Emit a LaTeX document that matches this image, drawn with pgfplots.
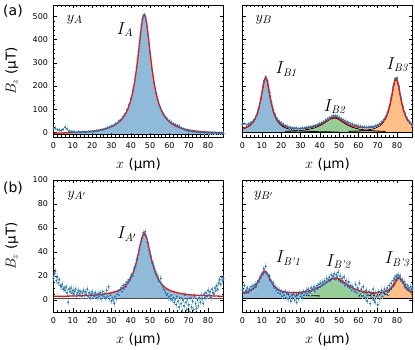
\documentclass[border=0pt]{standalone}
\usepackage[no-math]{fontspec}
\setmainfont{DejaVu Sans}
\usepackage{pgfplots}
\pgfplotsset{compat=1.18}
\definecolor{C0}{HTML}{1F77B4}
\definecolor{C1}{HTML}{FF7F0E}
\definecolor{C2}{HTML}{2CA02C}
\definecolor{fitred}{HTML}{F01010}
\tikzset{
  lab/.style={font=\fontsize{15}{15}\selectfont},
  ilab/.style={font=\fontsize{16}{16}\selectfont},
}
\pgfplotsset{
  panel/.style={
    scale only axis, width=170pt, height=132pt,
    xmin=0, xmax=88, xtick={0,10,...,80}, minor x tick num=4,
    tick align=inside,
    major tick length=3.5pt, minor tick length=1.8pt,
    every tick/.style={black, line width=0.5pt},
    axis line style={black, line width=0.9pt},
    tick label style={font=\fontsize{8}{9}\selectfont},
    xticklabel style={yshift=-2pt},
    yticklabel style={xshift=-2pt},
    label style={font=\fontsize{13.5}{15}\selectfont},
    xlabel={$x$ (µm)},
    xlabel style={at={(axis description cs:0.5,-0.21)}, anchor=center},
    ylabel style={at={(axis description cs:-0.245,0.5)}, anchor=center},
    /pgf/number format/assume math mode=true,
  },
  toprow/.style={ymin=-20, ymax=550, ytick={0,100,...,500}, minor y tick num=4},
  botrow/.style={ymin=-10, ymax=100, ytick={0,20,...,100}, minor y tick num=3},
  pts/.style={only marks, mark=*, mark size=0.8pt, mark options={draw=C0, fill=C0},
    error bars/y dir=both, error bars/x dir=both, error bars/x fixed=0.4,
    error bars/error mark=none, error bars/error bar style={C0!40, line width=0.6pt}},
  fitline/.style={fitred, line width=1.3pt},
  compline/.style={black, line width=0.8pt},
}
\begin{document}
\begin{tikzpicture}
\path[use as bounding box] (0,0) rectangle (415pt,350pt);
\node[font=\fontsize{14}{14}\selectfont] at (13pt,339pt) {(a)};
\node[font=\fontsize{14}{14}\selectfont] at (13pt,162pt) {(b)};

% ---------------- (a) left : y_A
\begin{axis}[panel, toprow, at={(53.5pt,213pt)}, anchor=south west, ylabel={$B_z$ (µT)}]
\addplot[draw=none, fill=C0, fill opacity=0.5] coordinates {
(0,-8)(0,-3.5)(3,-2.87)(7,-1.81)(11,-0.37)(13,0.53)(15,1.6)(17,2.9)(19,4.5)(21,6.4)(23,8.8)(25,11.9)(27,15.9)(29,21.2)(30,24.5)(31,28.4)(32,33)(33,38.6)(34,45.2)(35,53.4)(36,63.4)(37,76)(38,92)(39,112.2)(40,138.7)(41,173.1)(42,218.2)(43,275.7)(44,345.6)(44.5,383.5)(45,421.2)(45.5,456.2)(46,484.5)(46.5,503.4)(47,510)(47.5,503.4)(48,484.5)(48.5,456.2)(49,421.2)(49.5,383.5)(50,345.6)(51,275.7)(52,218.2)(53,173.1)(54,138.7)(55,112.2)(56,92)(57,76)(58,63.4)(59,53.4)(60,45.2)(61,38.6)(62,33)(63,28.4)(64,24.5)(65,21.2)(67,15.9)(69,11.9)(71,8.8)(73,6.4)(75,4.5)(77,2.9)(79,1.6)(81,0.53)(84,-0.78)(88,-2.1)(88,-8)};
\addplot[compline] coordinates {(0,-8)(88,-8)};
\addplot[pts, error bars/y fixed=8] coordinates {
(0,14)(1,18)(2,12)(3,10)(4,8)(5,13)(6,22)(7,15)(8,6)(9,3)(10,2)(11,1)(12,0)(13,3)(14,-1)(15,2)(16,1)(17,0)(18,3)(19,2)(20,4)(21,3)(22,6)(23,5)(24,8)(25,10)(26,12)(27,14)(28,20)(29,22)(30,27)(31,30)(32,36)(33,40)(34,50)(35,56)(36,68)(37,80)(38,98)(39,118)(40,145)(41,178)(42,222)(43,280)(44,350)(44.5,385)(45,425)(45.5,460)(46,488)(46.5,502)(47,508)(47.5,500)(48,480)(48.5,452)(49,418)(49.5,380)(50,342)(51,270)(52,214)(53,170)(54,137)(55,112)(56,93)(57,78)(58,66)(59,57)(60,50)(61,44)(62,38)(63,34)(64,30)(65,27)(66,20)(67,14)(68,10)(69,8)(70,5)(71,4)(72,3)(73,2)(74,0)(75,1)(76,-1)(77,0)(78,-2)(79,-1)(80,-3)(81,-2)(82,-4)(83,-2)(84,-3)(85,-5)(86,-3)(87,-4)(88,-4)};
\addplot[fitline] coordinates {
(0,-3.5)(3,-2.87)(7,-1.81)(11,-0.37)(13,0.53)(15,1.6)(17,2.9)(19,4.5)(21,6.4)(23,8.8)(25,11.9)(27,15.9)(29,21.2)(30,24.5)(31,28.4)(32,33)(33,38.6)(34,45.2)(35,53.4)(36,63.4)(37,76)(38,92)(39,112.2)(40,138.7)(41,173.1)(42,218.2)(43,275.7)(44,345.6)(44.5,383.5)(45,421.2)(45.5,456.2)(46,484.5)(46.5,503.4)(47,510)(47.5,503.4)(48,484.5)(48.5,456.2)(49,421.2)(49.5,383.5)(50,345.6)(51,275.7)(52,218.2)(53,173.1)(54,138.7)(55,112.2)(56,92)(57,76)(58,63.4)(59,53.4)(60,45.2)(61,38.6)(62,33)(63,28.4)(64,24.5)(65,21.2)(67,15.9)(69,11.9)(71,8.8)(73,6.4)(75,4.5)(77,2.9)(79,1.6)(81,0.53)(84,-0.78)(88,-2.1)};
\node[lab] at (axis cs:11,487) {$y_A$};
\node[ilab] at (axis cs:37,444) {$I_A$};
\end{axis}

% ---------------- (a) right : y_B
\begin{axis}[panel, toprow, at={(242.5pt,213pt)}, anchor=south west, yticklabels={}]
\addplot[draw=none, fill=C0, fill opacity=0.5] coordinates {
(0,0)(0,14.7)(1,17.3)(2,20.6)(3,24.9)(4,30.7)(5,38.5)(6,49.5)(7,65.3)(8,88.2)(9,121.3)(9.5,142.4)(10,166)(10.5,190.4)(11,212.9)(11.5,229)(12,235)(12.5,229)(13,212.9)(13.5,190.4)(14,166)(14.5,142.4)(15,121.3)(16,88.2)(17,65.3)(18,49.5)(19,38.5)(20,30.7)(21,24.9)(22,20.6)(23,17.3)(24,14.7)(25,12.6)(26,11)(27,9.6)(28,8.5)(30,6.8)(32,5.5)(35,4.2)(36,3.9)(36,0)};
\addplot[draw=none, fill=C2, fill opacity=0.5] coordinates {
(22,0)(22,4.3)(24,5.0)(26,5.9)(28,7.1)(30,8.6)(32,10.5)(34,13.1)(36,16.8)(38,21.8)(40,28.9)(42,38.3)(44,49.6)(45,55)(46,59.3)(47.5,62)(49,59.3)(50,55)(51,49.6)(53,38.3)(55,28.9)(57,21.8)(59,16.8)(61,13.1)(63,10.5)(65,8.6)(67,7.1)(70,5.5)(72,4.7)(74,4.0)(74,0)};
\addplot[draw=none, fill=C1, fill opacity=0.5] coordinates {
(60,0)(60,6.0)(63,8.3)(65,10.7)(66,12.2)(67,14.1)(68,16.5)(69,19.5)(70,23.4)(71,28.5)(72,35.4)(73,44.8)(74,58.2)(75,77.2)(76,104.7)(77,142.9)(78,188.5)(78.5,209.5)(79,224.5)(79.5,230)(80,224.5)(80.5,209.5)(81,188.5)(82,142.9)(83,104.7)(84,77.2)(85,58.2)(86,44.8)(87,35.4)(88,28.5)(88,0)};
\addplot[compline] coordinates {(0,0)(88,0)};
\addplot[compline] coordinates {
(0,14.7)(1,17.3)(2,20.6)(3,24.9)(4,30.7)(5,38.5)(6,49.5)(7,65.3)(8,88.2)(9,121.3)(9.5,142.4)(10,166)(10.5,190.4)(11,212.9)(11.5,229)(12,235)(12.5,229)(13,212.9)(13.5,190.4)(14,166)(14.5,142.4)(15,121.3)(16,88.2)(17,65.3)(18,49.5)(19,38.5)(20,30.7)(21,24.9)(22,20.6)(23,17.3)(24,14.7)(25,12.6)(26,11)(27,9.6)(28,8.5)(30,6.8)(32,5.5)(35,4.2)(40,2.8)(45,2.1)(50,1.6)};
\addplot[compline] coordinates {
(22,4.3)(24,5.0)(26,5.9)(28,7.1)(30,8.6)(32,10.5)(34,13.1)(36,16.8)(38,21.8)(40,28.9)(42,38.3)(44,49.6)(45,55)(46,59.3)(47.5,62)(49,59.3)(50,55)(51,49.6)(53,38.3)(55,28.9)(57,21.8)(59,16.8)(61,13.1)(63,10.5)(65,8.6)(67,7.1)(70,5.5)(72,4.7)(74,4.0)};
\addplot[compline] coordinates {
(55,3.9)(60,6.0)(63,8.3)(65,10.7)(66,12.2)(67,14.1)(68,16.5)(69,19.5)(70,23.4)(71,28.5)(72,35.4)(73,44.8)(74,58.2)(75,77.2)(76,104.7)(77,142.9)(78,188.5)(78.5,209.5)(79,224.5)(79.5,230)(80,224.5)(80.5,209.5)(81,188.5)(82,142.9)(83,104.7)(84,77.2)(85,58.2)(86,44.8)(87,35.4)(88,28.5)};
\addplot[pts, error bars/y fixed=8] coordinates {
(0,35)(1,38)(2,33)(3,35)(4,40)(5,45)(6,55)(7,70)(8,95)(9,125)(10,170)(11,220)(12,240)(13,222)(14,172)(15,130)(16,98)(17,75)(18,58)(19,48)(20,42)(21,36)(22,30)(23,26)(24,22)(25,20)(26,18)(27,19)(28,18)(29,15)(30,17)(31,19)(32,18)(33,21)(34,22)(35,24)(36,25)(37,28)(38,30)(39,34)(40,38)(41,42)(42,47)(43,53)(44,58)(45,63)(46,68)(47,72)(48,72)(49,70)(50,65)(51,60)(52,55)(53,50)(54,45)(55,42)(56,38)(57,35)(58,32)(59,30)(60,28)(61,26)(62,24)(63,23)(64,22)(65,22)(66,23)(67,24)(68,25)(69,28)(70,32)(71,36)(72,44)(73,53)(74,66)(75,85)(76,112)(77,150)(78,196)(79,232)(80,234)(81,198)(82,150)(83,112)(84,84)(85,64)(86,50)(87,40)(88,33)};
\addplot[fitline] coordinates {
(0,16.4)(1,19)(2,22.4)(3,27)(4,32.7)(5,40.5)(6,51.6)(7,67.5)(8,90.5)(9,123.7)(9.5,144.9)(10,168.5)(10.5,192.9)(11,215.5)(11.5,231.6)(12,237.7)(12.5,231.8)(13,215.8)(13.5,193.3)(14,169)(14.5,145.5)(15,124.5)(16,91.6)(17,68.9)(18,53.3)(19,42.5)(20,35.2)(22,25.6)(24,20.5)(26,17.7)(28,16.5)(30,16.3)(32,17)(34,18.8)(36,21.9)(38,26.5)(40,33.2)(42,42.5)(44,53.7)(46,63.3)(47.5,66.1)(49,63.5)(51,54)(53,43)(55,34.1)(57,27.5)(59,23.4)(61,20.8)(63,19.7)(65,20.1)(66,20.8)(67,22)(68,23.7)(69,26.1)(70,29.6)(71,34.2)(72,40.7)(73,49.7)(74,62.8)(75,81.6)(76,108.9)(77,146.8)(78,192.2)(78.5,213.1)(79,228)(79.5,233.4)(80,227.7)(80.5,212.7)(81,191.6)(82,145.9)(83,107.6)(84,79.9)(85,60.8)(86,47.3)(87,37.8)(88,30.7)};
\node[lab] at (axis cs:11,487) {$y_B$};
\node[ilab] at (axis cs:23,272) {$I_{\mathit{B1}}$};
\node[ilab] at (axis cs:48,112) {$I_{\mathit{B2}}$};
\node[ilab] at (axis cs:80.5,293) {$I_{\mathit{B3}}$};
\end{axis}

% ---------------- (b) left : y_A'
\begin{axis}[panel, botrow, at={(53.5pt,38pt)}, anchor=south west, ylabel={$B_z$ (µT)}]
\addplot[draw=none, fill=C0, fill opacity=0.5] coordinates {
(20,1.5)(20,3.9)(25,4.6)(30,6.0)(33,7.5)(35,9.0)(37,11.4)(39,15.2)(40,18.0)(41,21.6)(42,26.2)(43,32.1)(44,39.2)(45,46.8)(45.5,50.2)(46,53.0)(46.5,54.9)(47,55.5)(47.5,54.9)(48,53.0)(48.5,50.2)(49,46.8)(50,39.2)(51,32.1)(52,26.2)(53,21.6)(54,18.0)(55,15.2)(57,11.4)(59,9.0)(61,7.5)(64,6.0)(69,4.6)(74,3.9)(74,1.5)};
\addplot[black!70, line width=0.9pt] coordinates {(0,1.5)(88,1.5)};
\addplot[pts, error bars/y fixed=2.5] coordinates {
(0,18)(0.5,22)(1,24)(1.5,16)(2,19)(2.5,14)(3,17)(3.5,12)(4,11)(4.5,13)(5,9)(5.5,10)(6,8)(6.5,11)(7,6)(7.5,-2)(8,9)(8.5,7)(9,10)(9.5,6)(10,8)(10.5,5)(11,7)(11.5,9)(12,4)(12.5,6)(13,8)(13.5,5)(14,7)(14.5,3)(15,6)(15.5,8)(16,4)(16.5,7)(17,5)(17.5,9)(18,3)(18.5,6)(19,2)(19.5,5)(20,7)(20.5,4)(21,3)(21.5,6)(22,4)(22.5,2)(23,5)(23.5,3)(24,6)(24.5,1)(25,4)(25.5,7)(26,3)(26.5,5)(27,2)(27.5,8)(28,3)(28.5,11)(29,1)(29.5,4)(30,-1)(30.5,2)(31,0)(31.5,-3)(32,3)(32.5,1)(33,5)(33.5,7)(34,4)(34.5,8)(35,10)(35.5,7)(36,12)(36.5,9)(37,13)(37.5,11)(38,15)(38.5,14)(39,17)(39.5,16)(40,19)(40.5,21)(41,20)(41.5,25)(42,27)(42.5,28)(43,33)(43.5,34)(44,38)(44.5,42)(45,46)(45.5,49)(46,52)(46.5,56)(47,54)(47.5,57)(48,52)(48.5,48)(49,45)(49.5,41)(50,38)(50.5,35)(51,31)(51.5,30)(52,27)(52.5,24)(53,22)(53.5,20)(54,19)(54.5,16)(55,15)(55.5,18)(56,13)(56.5,11)(57,9)(57.5,8)(58,6)(58.5,4)(59,5)(59.5,2)(60,3)(60.5,1)(61,4)(61.5,0)(62,2)(62.5,-2)(63,1)(63.5,-4)(64,3)(64.5,-1)(65,-6)(65.5,2)(66,-3)(66.5,-9)(67,0)(67.5,-5)(68,4)(68.5,-2)(69,-8)(69.5,1)(70,-4)(70.5,-10)(71,2)(71.5,-6)(72,-1)(72.5,-8)(73,3)(73.5,-3)(74,-7)(74.5,0)(75,-5)(75.5,2)(76,-2)(76.5,4)(77,1)(77.5,-3)(78,5)(78.5,2)(79,6)(79.5,3)(80,8)(80.5,4)(81,7)(81.5,2)(82,9)(82.5,6)(83,5)(83.5,10)(84,8)(84.5,12)(85,9)(85.5,14)(86,17)(86.5,13)(87,19)(87.5,16)(88,18)};
\addplot[fitline] coordinates {
(0,3.0)(10,3.3)(20,3.9)(25,4.6)(30,6.0)(33,7.5)(35,9.0)(37,11.4)(39,15.2)(40,18.0)(41,21.6)(42,26.2)(43,32.1)(44,39.2)(45,46.8)(45.5,50.2)(46,53.0)(46.5,54.9)(47,55.5)(47.5,54.9)(48,53.0)(48.5,50.2)(49,46.8)(50,39.2)(51,32.1)(52,26.2)(53,21.6)(54,18.0)(55,15.2)(57,11.4)(59,9.0)(61,7.5)(64,6.0)(69,4.6)(74,3.9)(84,3.3)(88,3.1)};
\node[lab] at (axis cs:12,87) {$y_{A'}$};
\node[ilab] at (axis cs:38,55) {$I_{A'}$};
\end{axis}

% ---------------- (b) right : y_B'
\begin{axis}[panel, botrow, at={(242.5pt,38pt)}, anchor=south west, yticklabels={}]
\addplot[draw=none, fill=C0, fill opacity=0.5] coordinates {
(0,1)(0,5.0)(2,5.8)(4,7.2)(6,9.6)(7,11.5)(8,14.1)(9,17.3)(10,20.7)(11,23.2)(11.5,23.5)(12,23.2)(13,20.7)(14,17.3)(15,14.1)(16,11.5)(17,9.6)(19,7.2)(21,5.8)(23,5.0)(25,4.5)(26,4.3)(26,1)};
\addplot[draw=none, fill=C2, fill opacity=0.5] coordinates {
(24,1)(24,4.5)(26,4.75)(28,5.1)(30,5.5)(32,6.0)(34,6.7)(36,7.6)(38,8.85)(40,10.5)(42,12.6)(44,15)(46,17.1)(48,18)(50,17.1)(52,15)(54,12.6)(56,10.5)(58,8.85)(60,7.6)(62,6.7)(64,6.0)(66,5.5)(68,5.1)(70,4.75)(72,4.5)(72,1)};
\addplot[draw=none, fill=C1, fill opacity=0.5] coordinates {
(66,1)(66,3.7)(68,3.9)(70,4.24)(72,4.78)(74,5.73)(75,6.48)(76,7.55)(77,9.07)(78,11.2)(79,14.0)(80,16.7)(81,18)(82,16.7)(83,14.0)(84,11.2)(85,9.07)(86,7.55)(87,6.48)(88,5.73)(88,1)};
\addplot[black, line width=1.2pt] coordinates {(0,1)(88,1)};
\addplot[compline] coordinates {
(0,5.0)(2,5.8)(4,7.2)(6,9.6)(7,11.5)(8,14.1)(9,17.3)(10,20.7)(11,23.2)(11.5,23.5)(12,23.2)(13,20.7)(14,17.3)(15,14.1)(16,11.5)(17,9.6)(19,7.2)(21,5.8)(23,5.0)(25,4.5)(28,4.0)(32,3.7)(40,3.4)};
\addplot[compline] coordinates {
(20,4.1)(24,4.5)(26,4.75)(28,5.1)(30,5.5)(32,6.0)(34,6.7)(36,7.6)(38,8.85)(40,10.5)(42,12.6)(44,15)(46,17.1)(48,18)(50,17.1)(52,15)(54,12.6)(56,10.5)(58,8.85)(60,7.6)(62,6.7)(64,6.0)(66,5.5)(68,5.1)(70,4.75)(72,4.5)(76,4.2)};
\addplot[compline] coordinates {
(60,3.4)(66,3.7)(68,3.9)(70,4.24)(72,4.78)(74,5.73)(75,6.48)(76,7.55)(77,9.07)(78,11.2)(79,14.0)(80,16.7)(81,18)(82,16.7)(83,14.0)(84,11.2)(85,9.07)(86,7.55)(87,6.48)(88,5.73)};
\addplot[pts, error bars/y fixed=2.5] coordinates {
(0,9)(0.5,6)(1,12)(1.5,7)(2,8)(2.5,10)(3,6)(3.5,9)(4,8)(4.5,11)(5,9)(5.5,12)(6,10)(6.5,13)(7,11)(7.5,14)(8,16)(8.5,15)(9,19)(9.5,18)(10,22)(10.5,21)(11,26)(11.5,23)(12,28)(12.5,22)(13,21)(13.5,19)(14,20)(14.5,16)(15,15)(15.5,13)(16,14)(16.5,10)(17,11)(17.5,8)(18,9)(18.5,6)(19,8)(19.5,5)(20,7)(20.5,3)(21,6)(21.5,4)(22,7)(22.5,2)(23,5)(23.5,1)(24,6)(24.5,3)(25,-1)(25.5,4)(26,2)(26.5,5)(27,0)(27.5,3)(28,-2)(28.5,4)(29,1)(29.5,6)(30,3)(30.5,5)(31,2)(31.5,7)(32,4)(32.5,6)(33,8)(33.5,5)(34,9)(34.5,7)(35,6)(35.5,10)(36,8)(36.5,9)(37,11)(37.5,7)(38,10)(38.5,12)(39,9)(39.5,13)(40,11)(40.5,14)(41,12)(41.5,15)(42,13)(42.5,16)(43,14)(43.5,18)(44,15)(44.5,17)(45,19)(45.5,16)(46,21)(46.5,18)(47,20)(47.5,22)(48,17)(48.5,21)(49,19)(49.5,23)(50,16)(50.5,20)(51,15)(51.5,18)(52,14)(52.5,19)(53,12)(53.5,16)(54,13)(54.5,11)(55,15)(55.5,10)(56,12)(56.5,8)(57,11)(57.5,9)(58,7)(58.5,13)(59,6)(59.5,10)(60,8)(60.5,14)(61,5)(61.5,9)(62,3)(62.5,11)(63,6)(63.5,2)(64,8)(64.5,-1)(65,4)(65.5,7)(66,-3)(66.5,5)(67,2)(67.5,9)(68,0)(68.5,-2)(69,6)(69.5,3)(70,-4)(70.5,7)(71,1)(71.5,5)(72,8)(72.5,3)(73,6)(73.5,9)(74,5)(74.5,8)(75,10)(75.5,7)(76,12)(76.5,9)(77,14)(77.5,11)(78,16)(78.5,18)(79,17)(79.5,20)(80,19)(80.5,21)(81,18)(81.5,20)(82,16)(82.5,17)(83,14)(83.5,15)(84,11)(84.5,13)(85,9)(85.5,12)(86,10)(86.5,8)(87,11)(87.5,9)(88,10)};
\addplot[fitline] coordinates {
(0,5.45)(2,6.3)(4,7.7)(6,10.2)(7,12.1)(8,14.7)(9,17.9)(10,21.3)(11,23.9)(11.5,24.2)(12,23.9)(13,21.4)(14,18.0)(15,14.9)(16,12.3)(17,10.5)(19,8.1)(21,6.9)(23,6.3)(25,6.2)(28,6.2)(30,6.4)(32,6.75)(34,7.35)(36,8.2)(38,9.4)(40,11.0)(42,13.0)(44,15.4)(46,17.5)(48,18.4)(50,17.5)(52,15.4)(54,13.0)(56,10.9)(58,9.3)(60,8.1)(62,7.2)(64,6.6)(66,6.25)(68,6.1)(70,6.1)(72,6.35)(74,7.1)(75,7.75)(76,8.7)(77,10.2)(78,12.3)(79,15.0)(80,17.7)(81,18.9)(82,17.6)(83,14.8)(84,12.0)(85,9.8)(86,8.2)(87,7.1)(88,6.4)};
\node[lab] at (axis cs:11,87) {$y_{B'}$};
\node[ilab] at (axis cs:24,35) {$I_{\mathit{B\mathchar"7027 1}}$};
\node[ilab] at (axis cs:50,32) {$I_{\mathit{B\mathchar"7027 2}}$};
\node[ilab] at (axis cs:80.5,34) {$I_{\mathit{B\mathchar"7027 3}}$};
\end{axis}
\end{tikzpicture}
\end{document}
